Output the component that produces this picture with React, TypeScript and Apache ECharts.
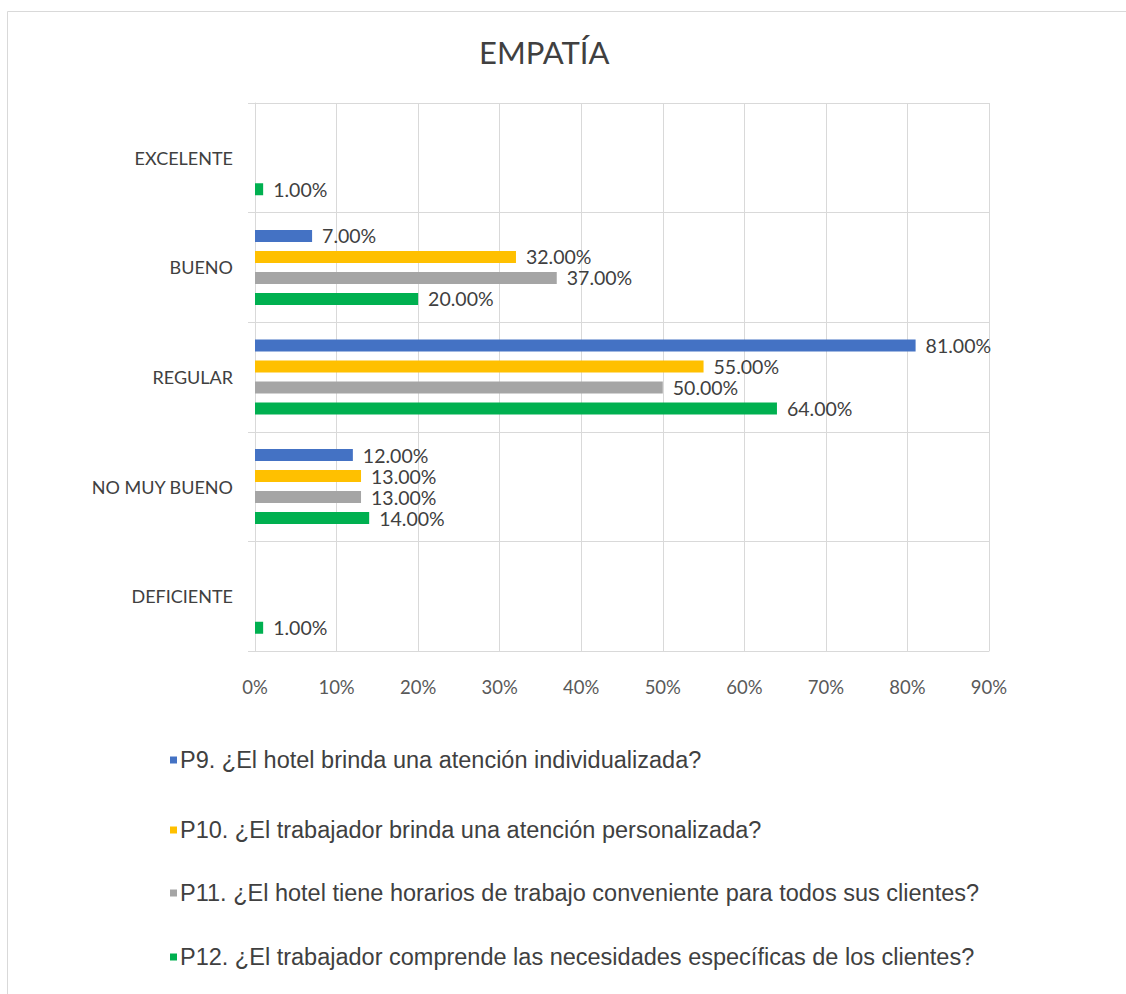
import React, { useEffect, useRef } from "react";
import * as echarts from "echarts";

const categories = ["EXCELENTE", "BUENO", "REGULAR", "NO MUY BUENO", "DEFICIENTE"];
const seriesNames = [
  "P9. ¿El hotel brinda una atención individualizada?",
  "P10. ¿El trabajador brinda una atención personalizada?",
  "P11. ¿El hotel tiene horarios de trabajo conveniente para todos sus clientes?",
  "P12. ¿El trabajador comprende las necesidades específicas de los clientes?",
];
const p9Values = [0, 7, 81, 12, 0];
const p10Values = [0, 32, 55, 13, 0];
const p11Values = [0, 37, 50, 13, 0];
const p12Values = [1, 20, 64, 14, 1];
const xTicks = [0, 10, 20, 30, 40, 50, 60, 70, 80, 90];

const colors = ["#4472C4", "#FFC000", "#A5A5A5", "#00B050"];
const legendTops = [748, 818, 881, 945];

export default function App() {
  const ref = useRef<HTMLDivElement>(null);
  useEffect(() => {
    if (!ref.current) return;
    const chart = echarts.init(ref.current, null, { renderer: "svg" });
    const values = [p9Values, p10Values, p11Values, p12Values];
    const gridColor = "#D9D9D9";
    chart.setOption({
      animation: false,
      backgroundColor: "#ffffff",
      title: {
        text: "EMPATÍA",
        left: 479,
        top: 36,
        padding: 0,
        textStyle: { fontFamily: "Lato", fontSize: 31, fontWeight: "normal", color: "#404040" },
      },
      graphic: [
        {
          type: "rect",
          shape: { x: 7.5, y: 11.5, width: 1200, height: 1100 },
          style: { fill: "none", stroke: "#D9D9D9", lineWidth: 1 },
          silent: true,
        },
      ],
      legend: seriesNames.map((n, i) => ({
        data: [n],
        orient: "horizontal",
        left: 170,
        top: legendTops[i],
        padding: 0,
        icon: "rect",
        itemWidth: 7,
        itemHeight: 7,
        itemGap: 4,
        textStyle: { fontFamily: "Liberation Sans", fontSize: 23.5, color: "#404040", padding: [0, 0, 0, -2] },
      })),
      grid: { left: 255, right: 137, top: 103, bottom: 343, containLabel: false },
      xAxis: {
        type: "value",
        min: xTicks[0],
        max: xTicks[xTicks.length - 1],
        interval: 10,
        axisLine: { show: true, lineStyle: { color: gridColor } },
        axisTick: { show: false },
        splitLine: { show: true, lineStyle: { color: gridColor } },
        axisLabel: {
          formatter: "{value}%",
          margin: 26,
          fontFamily: "Lato",
          fontSize: 18.5,
          color: "#595959",
        },
      },
      yAxis: {
        type: "category",
        inverse: true,
        data: categories,
        axisLine: { show: true, lineStyle: { color: gridColor } },
        axisTick: { show: true, length: 7, lineStyle: { color: gridColor } },
        splitLine: { show: true, lineStyle: { color: gridColor } },
        axisLabel: {
          margin: 22,
          fontFamily: "Lato",
          fontSize: 18,
          color: "#404040",
        },
      },
      series: values.map((v, i) => ({
        name: seriesNames[i],
        type: "bar",
        data: v,
        barWidth: 12,
        barGap: "75%",
        itemStyle: { color: colors[i] },
        label: {
          show: true,
          position: "right",
          distance: 10,
          fontFamily: "Lato",
          fontSize: 19.5,
          color: "#404040",
          formatter: (p: any) => (p.value ? `${Number(p.value).toFixed(2)}%` : ""),
        },
      })),
    });
    return () => chart.dispose();
  }, []);
  return (
    <div
      ref={ref}
      style={{ position: "absolute", left: 0, top: 0, width: 1126, height: 994 }}
    />
  );
}
